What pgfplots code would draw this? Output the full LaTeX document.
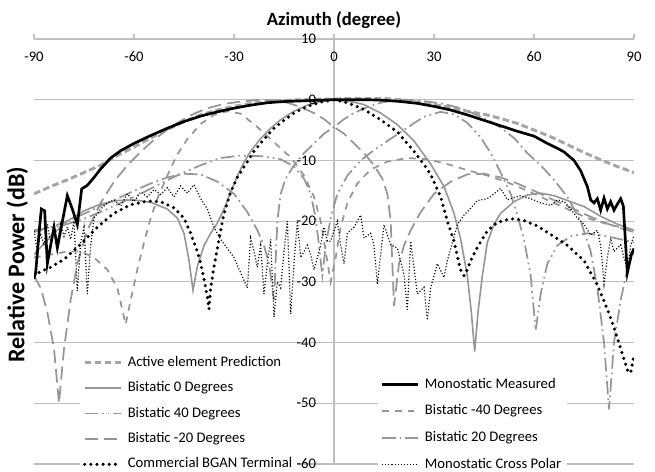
\documentclass[border=0pt]{standalone}
\usepackage{fontspec}
\setmainfont{Carlito}
\usepackage{pgfplots}
\pgfplotsset{compat=1.18}

\definecolor{gridc}{RGB}{191,191,191}
\definecolor{lgray}{RGB}{165,165,165}
\definecolor{mgray}{RGB}{150,150,150}

\pgfplotsset{
  layers/curvesunder/.define layer set={axis background,axis grid,axis ticks,axis lines,main,axis tick labels,axis descriptions,axis foreground}{/pgfplots/layers/standard},
  set layers=curvesunder,
  sActive/.style={lgray, line width=2.2pt, dash pattern=on 5pt off 2.5pt},
  sMono/.style={black, line width=2pt},
  sBzero/.style={mgray, line width=1.2pt},
  sBmforty/.style={mgray, line width=1.3pt, dash pattern=on 5pt off 4.5pt},
  sBforty/.style={mgray, line width=1.3pt, dash pattern=on 10pt off 3pt on 1.3pt off 3pt on 1.3pt off 3pt},
  sBtwenty/.style={mgray, line width=1.3pt, dash pattern=on 10pt off 3pt on 1.3pt off 3pt},
  sBmtwenty/.style={mgray, line width=1.3pt, dash pattern=on 10pt off 4.5pt},
  sXpol/.style={black, line width=0.9pt, dash pattern=on 0.8pt off 1.5pt},
  sBgan/.style={black, line width=2.6pt, line cap=round, dash pattern=on 0pt off 4.6pt},
  legend image code/.code={\draw[#1] (0pt,0pt) -- (27pt,0pt);},
  frame/.style={scale only axis, width=450pt, height=318.75pt,
    xmin=-90, xmax=90, ymin=-60, ymax=10},
  legbox/.style={anchor=north west, draw=none, fill=white,
    font=\fontsize{11}{13}\selectfont, inner xsep=2pt, inner ysep=3pt,
    nodes={inner sep=2pt, text height=8pt, text depth=2.5pt},
    /tikz/column sep=2pt},
}

\begin{document}
\begin{tikzpicture}
\begin{axis}[frame,
  axis x line*=top, axis y line*=left,
  axis line style={gridc, line width=0.8pt},
  y axis line style={draw=none},
  xtick={-90,-60,...,90}, ytick={-60,-50,...,10},
  yticklabels={-60,-50,-40,-30,-20,-10,0,10},
  ymajorgrids, grid style={gridc, line width=0.8pt},
  tick align=outside, major tick length=4pt,
  xtick style={gridc, line width=0.8pt}, ytick style={draw=none},
  tick label style={font=\fontsize{11}{13}\selectfont},
  /pgf/number format/assume math mode=true,
  xticklabel style={anchor=center, yshift=-17pt},
  yticklabel style={anchor=east, xshift=219pt},
  title={Azimuth (degree)},
  ylabel={Relative Power (dB)},
  every axis title/.style={at={(rel axis cs:0.5,1)}, anchor=center, yshift=14.5pt,
    font=\bfseries\fontsize{14}{16}\selectfont},
  every axis y label/.style={at={(rel axis cs:0,0.5)}, xshift=-12.5pt, yshift=-10pt, rotate=90,
    anchor=center, font=\bfseries\fontsize{18}{20}\selectfont},
  legend style={legbox, at={(rel axis cs:0.0767,0.2717)}, row sep=4.6pt},
  legend cell align=left,
]
% vertical axis line at azimuth 0
\draw[gridc, line width=0.8pt] (axis cs:0,-60) -- (axis cs:0,10);
% Active element prediction
\addplot[sActive, forget plot] coordinates {
(-90,-15.5)(-85,-14.3)(-80,-13.2)(-75,-12)(-70,-10.8)(-65,-9.2)(-60,-7.8)(-55,-6.3)
(-50,-4.9)(-45,-3.6)(-40,-2.5)(-35,-1.7)(-30,-1.1)(-25,-0.6)(-20,-0.3)(-15,-0.1)
(-10,0)(-5,0.1)(0,0.1)(5,0.2)(10,0.2)(15,0.2)(20,0)(25,-0.4)(30,-0.8)(35,-1.3)
(40,-1.9)(45,-2.4)(50,-3.1)(55,-3.9)(60,-5)(65,-6.1)(70,-7.4)(75,-8.7)(80,-9.9)
(85,-11)(90,-12)};
% Bistatic -20
\addplot[sBmtwenty, forget plot] coordinates {
(-90,-29)(-88,-31)(-86,-35)(-84,-41)(-82.5,-50)(-81,-41)(-79,-33)(-77,-27)(-74,-21.5)
(-70,-17)(-66,-13.5)(-62,-10.8)(-58,-8.6)(-54,-6.6)(-50,-4.9)(-46,-3.5)(-42,-2.3)
(-38,-1.4)(-33,-0.7)(-28,-0.3)(-22,0)(-18,-0.1)(-14,-0.5)(-10,-1.2)(-6,-2.2)(-3,-3.2)
(0,-4.5)(3,-5.6)(6,-7.2)(9,-8.8)(12,-10.8)(14.5,-13)(16,-15.5)(17,-20)(18,-34)
(19.5,-27)(21,-24)(23,-21.5)(26,-18.5)(30,-15.5)(35,-13.5)(40,-12.3)(45,-12.2)
(50,-12.8)(55,-13.8)(60,-15)(65,-16.3)(70,-17.5)(75,-18.8)(80,-20)(85,-21)(90,-21.8)};
% Bistatic 20
\addplot[sBtwenty, forget plot] coordinates {
(-90,-21.8)(-85,-21)(-80,-20)(-75,-18.8)(-70,-17.5)(-65,-16.3)(-60,-15)(-55,-13.8)
(-50,-12.8)(-45,-12.2)(-40,-12.3)(-35,-13.5)(-30,-15.5)(-26,-18.5)(-23,-21.5)(-21,-24)
(-19.5,-27)(-18,-33)(-17,-20)(-16,-15.5)(-14.5,-13)(-12,-10.8)(-9,-8.8)(-6,-7.2)
(-3,-5.6)(0,-4.5)(3,-3.2)(6,-2.2)(10,-1.2)(14,-0.5)(18,-0.1)(22,0)(28,-0.3)(33,-0.7)
(38,-1.4)(42,-2.3)(46,-3.3)(50,-4.6)(54,-6.3)(58,-8.8)(62,-10.8)(66,-13.2)(70,-16)
(74,-20)(77,-25)(79,-31)(81,-40)(82.5,-51)(84,-40)(86,-33)(88,-28)(90,-25)};
% Bistatic -40
\addplot[sBmforty, forget plot] coordinates {
(-90,-26)(-85,-25.5)(-80,-25)(-76,-25)(-72,-26)(-68,-28)(-65,-31)(-62.5,-37)(-61,-33)
(-59,-28)(-57,-23.5)(-55,-19.5)(-53,-16.3)(-50,-12.5)(-47,-9)(-44,-6.5)(-40,-4)
(-36,-2.5)(-32,-1.9)(-28,-2.3)(-23,-4.5)(-18,-7)(-13,-9.5)(-9,-12.5)(-6,-16)(-4,-20)
(-2.5,-25)(-1,-30)(0.5,-26)(2,-21)(4,-17)(7,-13.8)(11,-11.5)(16,-10.2)(22,-9.6)
(28,-9.8)(34,-10.6)(40,-11.6)(46,-12.5)(52,-13.6)(58,-15)(64,-16.5)(70,-18)(76,-19.5)
(82,-20.5)(90,-21.5)};
% Bistatic 40
\addplot[sBforty, forget plot] coordinates {
(-90,-21.5)(-82,-20.8)(-76,-19.8)(-70,-18.5)(-64,-17)(-58,-15.5)(-52,-13.8)(-46,-12.2)
(-40,-10.8)(-34,-9.6)(-28,-9.2)(-22,-9.3)(-16,-9.8)(-12,-11)(-9,-13)(-7,-15.5)
(-5.5,-19.5)(-4.5,-24)(-3.5,-29)(-2.5,-24)(-1,-19.5)(1,-15.5)(4,-12.5)(8,-10)(12,-8.3)
(16,-6.8)(22,-4.6)(27,-2.8)(32,-2)(36,-2.4)(40,-3.8)(44,-6.2)(47,-8.8)(50,-12)
(53,-15.5)(55,-19)(57,-23)(59,-29)(60.5,-38)(62,-32)(64,-27)(67,-24)(71,-22.5)
(76,-22)(82,-22.5)(86,-23)(90,-23.5)};
% Bistatic 0
\addplot[sBzero, forget plot] coordinates {
(-90,-25.5)(-85,-22.5)(-80,-20)(-75,-18.3)(-70,-17.2)(-65,-16.6)(-60,-16.5)(-55,-16.9)
(-50,-18)(-47,-19.5)(-45,-22)(-43.5,-26.5)(-42.3,-31.4)(-41,-27.5)(-39,-24)(-37,-22)
(-35,-20.3)(-33,-18)(-31,-15.2)(-29,-12.6)(-27,-10.3)(-25,-8.5)(-22,-6.4)(-19,-4.7)
(-16,-3.3)(-12,-1.9)(-8,-0.9)(-4,-0.3)(0,0)(5,-0.3)(9,-0.8)(14,-2.2)(19,-4.1)(24,-6.8)
(29,-10.6)(33,-14.3)(36,-18.7)(38,-23)(40,-29)(41.2,-35)(42.2,-41.5)(43.2,-35)
(44.5,-29)(46,-23.5)(48,-20.5)(50,-18.7)(54,-16.8)(58,-15.7)(62,-15.4)(66,-15.8)
(70,-16.6)(75,-17.6)(80,-19.2)(85,-20.5)(90,-21.5)};
% Monostatic cross polar
\addplot[sXpol, forget plot] coordinates {
(-90,-21.6)(-89,-25)(-88,-22)(-87,-24)(-86,-20.5)(-85,-23.5)(-84,-21)(-83,-24)
(-82,-20.5)(-81,-22.5)(-80,-21)(-79,-23)(-78,-20)(-77,-31.5)(-76,-23.5)(-75,-21)
(-74,-32)(-73,-24)(-72,-19.5)(-70,-18)(-68,-17)(-66,-16.5)(-64,-17.5)(-62,-15.5)
(-60,-16.8)(-58,-15.2)(-56,-16)(-54,-14.8)(-52,-15.6)(-50,-14.5)(-48,-16)(-46,-14.2)
(-44,-15.4)(-42,-14)(-40,-16.3)(-38,-18)(-36,-21)(-34,-23)(-32,-24.5)(-30,-26)
(-28,-28.5)(-26,-31)(-25,-22.8)(-24,-25)(-23,-27.6)(-22,-24)(-21,-32)(-20,-27)
(-19,-23)(-18,-35.8)(-17,-30)(-16,-31)(-15,-25)(-14,-20)(-13,-35.3)(-12,-27)(-11,-20)
(-10,-26)(-8,-24)(-7,-25.5)(-6,-28)(-4,-24)(-3,-21)(-2,-23.3)(-1,-23.3)(0,-21.6)
(1,-20)(2,-24)(3,-27)(4,-22)(6,-21)(8,-19)(9,-22.8)(11,-22)(12,-23.9)(13,-30.4)
(15,-20.6)(17,-23.9)(19,-24.4)(21,-28.8)(22,-34.6)(23,-23.3)(25,-32)(27,-30.9)
(28,-36.3)(29,-31)(31,-27)(33,-29.3)(34,-26.5)(37,-20.6)(39,-19)(41,-17.9)(43,-16.6)
(46,-16.3)(48,-15.5)(50,-14.6)(52,-16.5)(53,-16.3)(56,-15.8)(59,-16.3)(62,-17)
(65,-17.4)(67,-16.5)(69,-16.8)(71,-18)(73,-19.5)(75,-20.5)(77,-22.3)(79,-21.5)
(80,-24)(81,-30.4)(82,-26)(83,-22.8)(84,-25)(86,-23.9)(87,-26)(88,-28)(89,-24)(90,-22.3)};
% Commercial BGAN terminal
\addplot[sBgan, forget plot] coordinates {
(-90,-29)(-88,-28.3)(-85,-27.6)(-81,-26.3)(-76,-23.8)(-71,-21)(-66,-18.7)(-61,-17.3)
(-56,-16.7)(-52,-16.8)(-48,-17.8)(-45,-19.5)(-43,-22)(-41,-25)(-40,-27)(-39,-29.5)
(-38,-32.5)(-37.5,-34.5)(-37,-31)(-36,-27.5)(-35,-24.5)(-34,-21.5)(-33,-18.8)(-31,-15.2)
(-29,-12.8)(-26,-10.2)(-24,-8.5)(-21,-6.5)(-18,-4.7)(-15,-3.4)(-12,-2.2)(-8,-1.1)
(-4,-0.4)(0,0)(4,-0.5)(9,-1.6)(14,-3.3)(19,-5.3)(24,-8.5)(27,-10.7)(29,-12.3)(32,-16)
(34,-20)(36,-23.3)(37,-25.8)(38,-28)(39,-29)(40,-28)(41,-26.5)(43,-24.3)(46,-21.6)
(49,-20.2)(53,-19.6)(57,-19.9)(61,-20.8)(65,-22.2)(70,-24)(75,-26.5)(79,-30.5)
(82,-34.5)(84,-37.5)(86,-41)(88,-44.5)(89,-45)(90,-42)};
% Monostatic measured
\addplot[sMono, forget plot] coordinates {
(-90,-29.5)(-89.5,-28.5)(-88.5,-22)(-87.8,-18)(-86.8,-18.3)(-86,-27)(-85,-24)(-84,-21)
(-83,-24.4)(-82,-21.5)(-80,-15.8)(-78.5,-18)(-77,-20.6)(-75.7,-14.7)(-74,-14.1)
(-72,-12.8)(-70,-11.4)(-67,-9.6)(-64,-8.4)(-60,-7.2)(-55,-5.9)(-50,-4.7)(-45,-3.6)
(-40,-2.7)(-35,-2)(-30,-1.4)(-25,-0.9)(-20,-0.5)(-15,-0.3)(-10,-0.2)(-5,-0.1)(0,0)
(5,0)(10,0)(15,-0.1)(20,-0.3)(25,-0.6)(30,-1.1)(35,-1.7)(40,-2.5)(45,-3.4)(50,-4.3)
(55,-5.2)(60,-6)(64,-7.2)(67,-8)(69,-8.6)(72,-10)(74,-11.7)(75,-13)(76,-14.3)
(77,-16.5)(78,-17)(79,-16.3)(80,-18.2)(81,-16.2)(82,-18)(83,-16.8)(84,-18.2)(85,-17.2)
(86,-16.3)(86.8,-17.5)(87.5,-24)(88,-28.5)(88.6,-27)(89.2,-25.5)(90,-24.5)};

\addlegendimage{sActive}\addlegendentry{Active element Prediction}
\addlegendimage{sBzero}\addlegendentry{Bistatic 0 Degrees}
\addlegendimage{sBforty}\addlegendentry{Bistatic 40 Degrees}
\addlegendimage{sBmtwenty}\addlegendentry{Bistatic -20 Degrees}
\addlegendimage{sBgan}\addlegendentry{Commercial BGAN Terminal}

\coordinate (bl) at (rel axis cs:0,0);
\coordinate (tr) at (rel axis cs:1,1);
\end{axis}

\begin{axis}[frame, hide axis,
  legend style={legbox, at={(rel axis cs:0.5733,0.2201)}, row sep=5.5pt},
  legend cell align=left,
]
\addplot[draw=none, forget plot] coordinates {(0,0)};
\addlegendimage{sMono}\addlegendentry{Monostatic Measured}
\addlegendimage{sBmforty}\addlegendentry{Bistatic -40 Degrees}
\addlegendimage{sBtwenty}\addlegendentry{Bistatic 20 Degrees}
\addlegendimage{sXpol}\addlegendentry{Monostatic Cross Polar}
\end{axis}

\pgfresetboundingbox
\path ([shift={(-25.5pt,-6pt)}]bl) rectangle ([shift={(15.75pt,29.25pt)}]tr);
\end{tikzpicture}
\end{document}
